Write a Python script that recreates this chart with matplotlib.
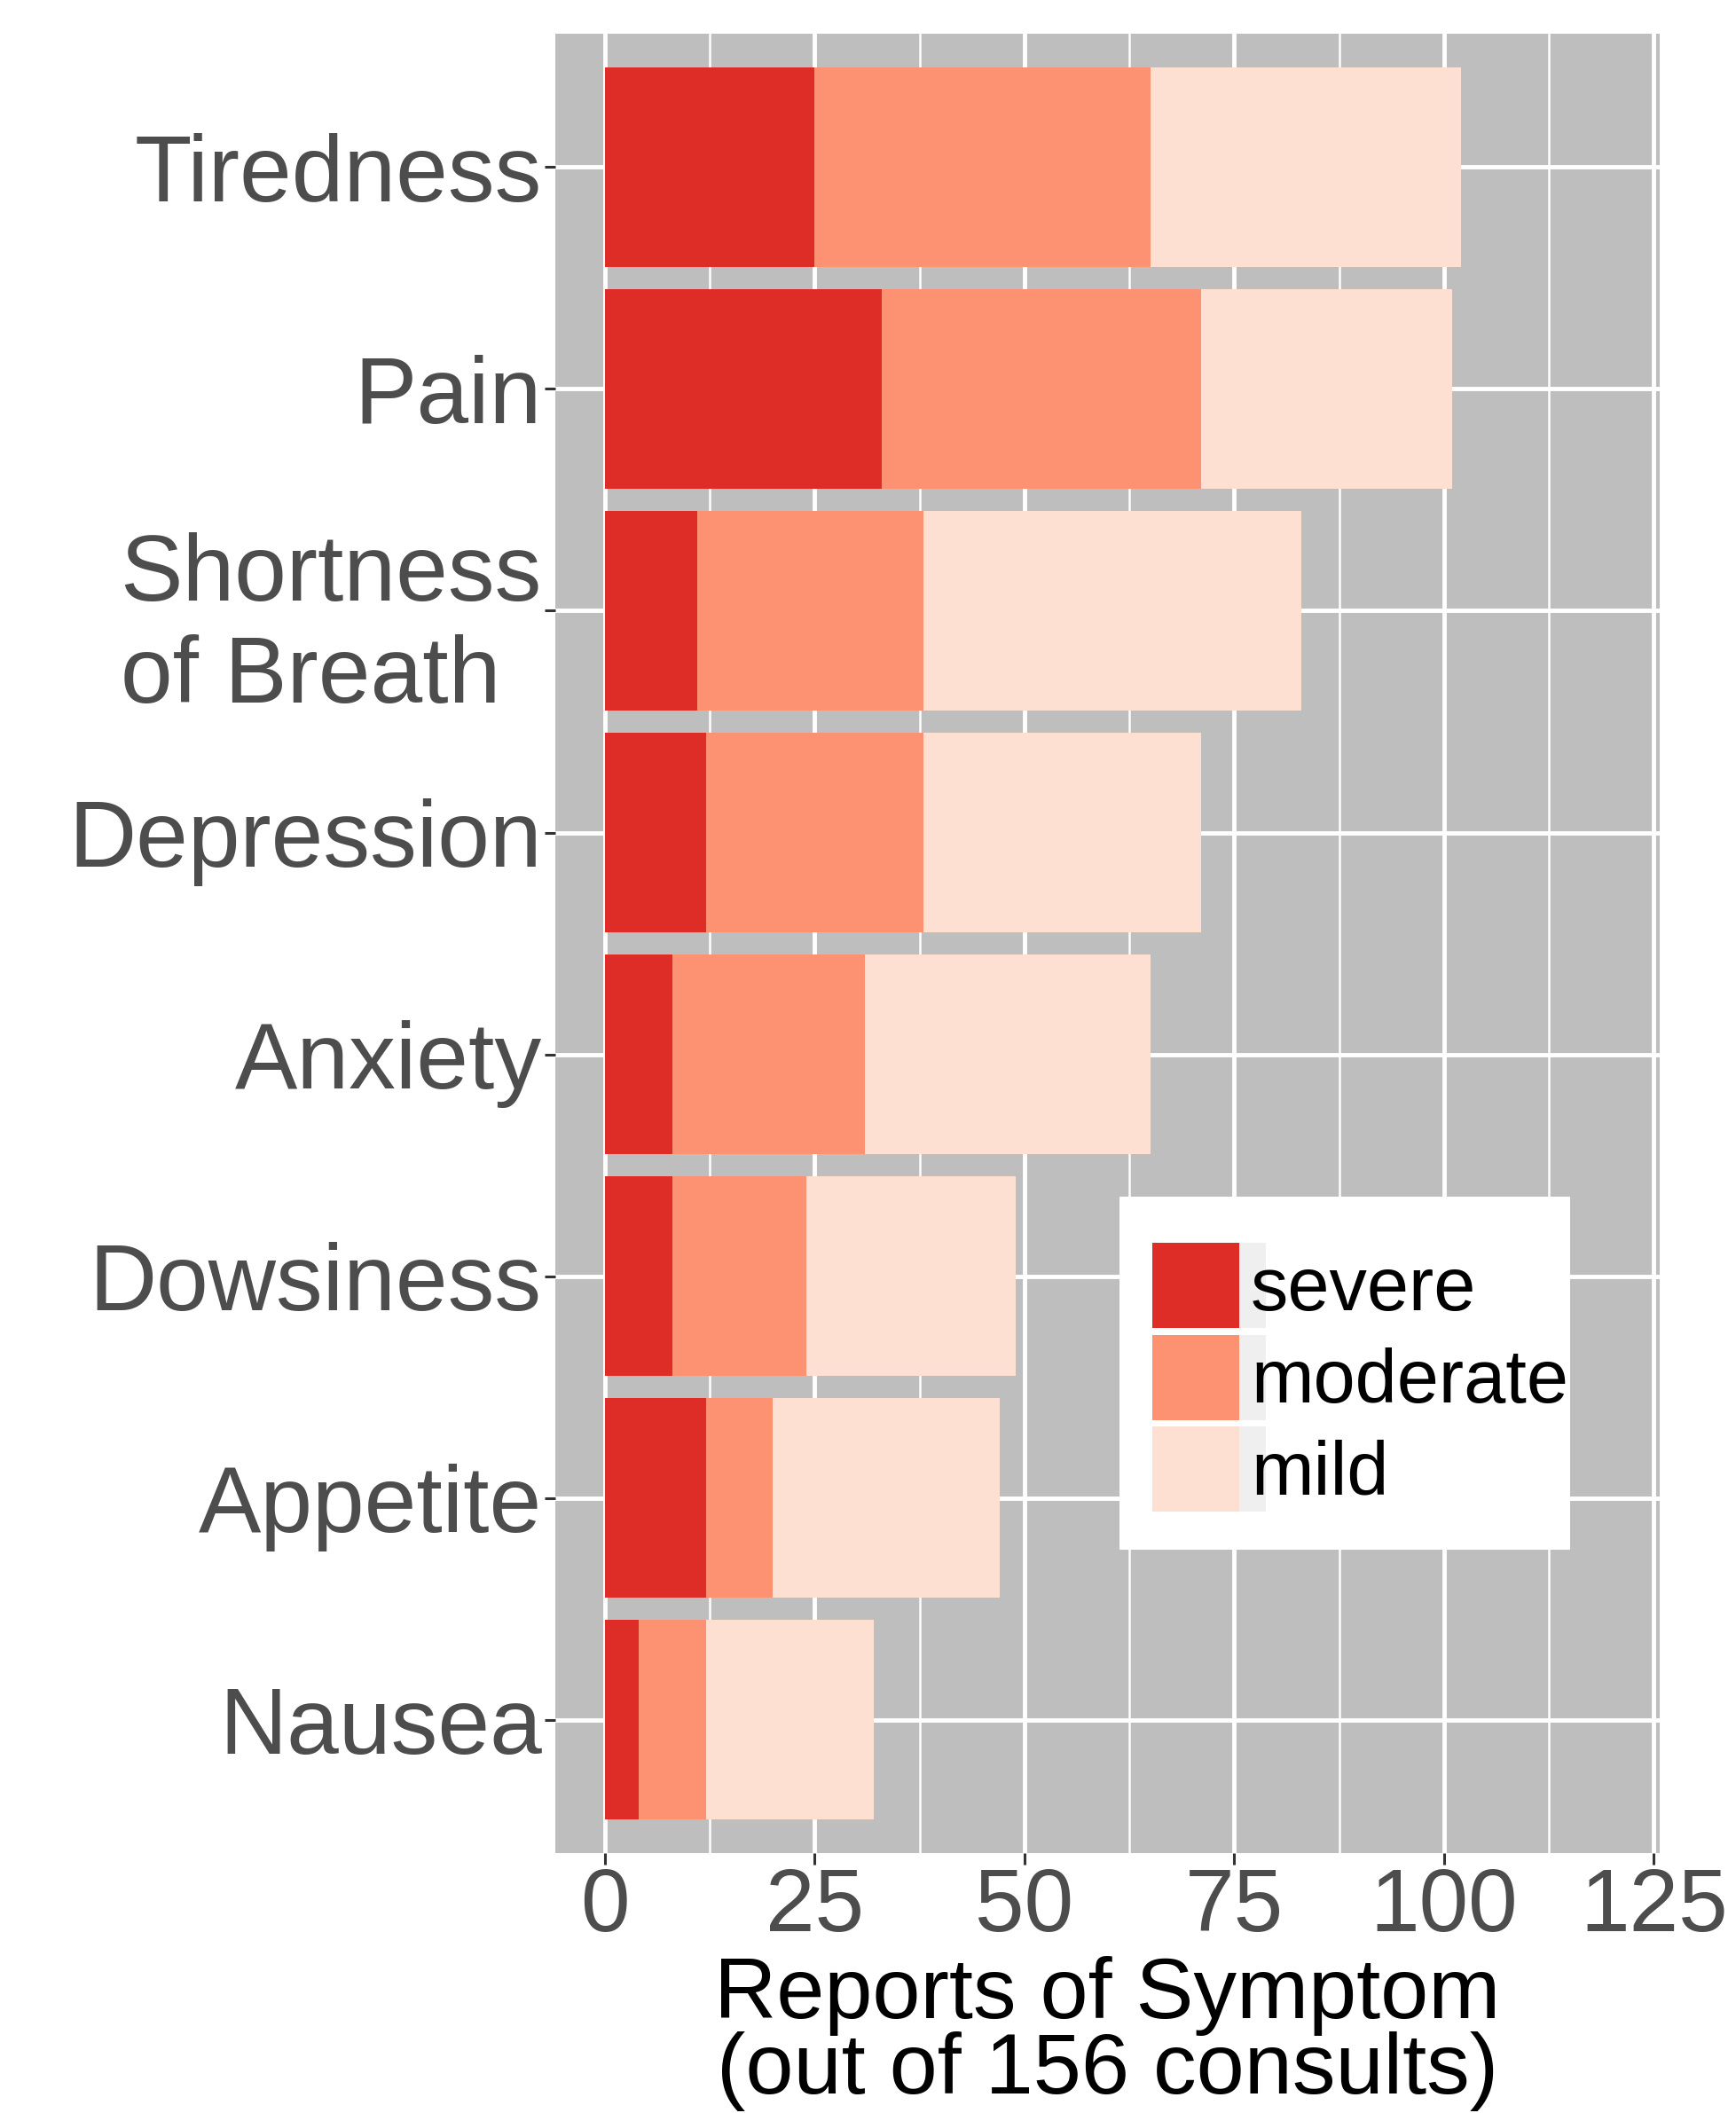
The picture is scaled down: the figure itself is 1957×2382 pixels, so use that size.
import matplotlib
matplotlib.use('Agg')
import matplotlib.pyplot as plt
from matplotlib.patches import Rectangle
from matplotlib.ticker import MultipleLocator
import numpy as np

plt.rcParams['font.family'] = ['Liberation Sans', 'DejaVu Sans']

# --- data ---
symptoms = ["Tiredness", "Pain", "Shortness\nof Breath", "Depression",
            "Anxiety", "Dowsiness", "Appetite", "Nausea"]
severe = [25, 33, 11, 12, 8, 8, 12, 4]
moderate = [40, 38, 27, 26, 23, 16, 8, 8]
mild = [37, 30, 45, 33, 34, 25, 27, 20]
levels = ["severe", "moderate", "mild"]
colors = ["#DE2D26", "#FC9272", "#FEE0D2"]
x_ticks = [0, 25, 50, 75, 100, 125]

W, H = 1957, 2382
fig = plt.figure(figsize=(W / 100, H / 100), dpi=100)
ax = fig.add_axes([0.320, 0.123, 0.636, 0.861])
ax.set_facecolor("#BEBEBE")

ypos = np.arange(len(symptoms))[::-1] + 1
left = np.zeros(len(symptoms))
for vals, col, lab in zip([severe, moderate, mild], colors, levels):
    ax.barh(ypos, vals, left=left, height=0.9, color=col, label=lab,
            linewidth=0, zorder=3)
    left += np.array(vals)

# --- axes / grid ---
ax.set_xlim(-5.9, 125.7)
ax.set_ylim(0.4, len(symptoms) + 0.6)
ax.set_xticks(x_ticks)
ax.xaxis.set_minor_locator(MultipleLocator(12.5))
ax.set_yticks(ypos)
ax.set_yticklabels(symptoms)
for t in ax.get_yticklabels():
    t.set_multialignment('left')

ax.grid(which='major', color='white', linewidth=3.5, zorder=1)
ax.grid(which='minor', axis='x', color='white', linewidth=1.8, zorder=1)
ax.set_axisbelow(True)
for s in ax.spines.values():
    s.set_visible(False)

ax.tick_params(axis='both', which='major', length=9, width=2.2,
               color='#333333', labelcolor='#4D4D4D')
ax.tick_params(axis='y', labelsize=76, pad=2)
ax.tick_params(axis='x', labelsize=72, pad=2)
ax.tick_params(axis='x', which='minor', length=0)

ax.set_xlabel("Reports of Symptom\n(out of 156 consults)", fontsize=70,
              color='black', labelpad=5, linespacing=0.93)


# --- legend, laid out by hand in figure pixels ---
def fx(px):
    return px / W


def fy(px):
    return 1 - px / H


ax.add_patch(Rectangle((fx(1262), fy(1747)), fx(1770) - fx(1262),
                       fy(1349) - fy(1747), transform=fig.transFigure,
                       facecolor='white', edgecolor='none', zorder=4,
                       clip_on=False))
key_top = 1401
key_h = 96
key_pitch = 103.5
for i, (c, l) in enumerate(zip(colors, levels)):
    top = key_top + i * key_pitch
    # faint key background strip, as in the ggplot original
    ax.add_patch(Rectangle((fx(1299), fy(top + key_h)), fx(1427) - fx(1299),
                           fy(top) - fy(top + key_h), transform=fig.transFigure,
                           facecolor='#EFEFEF', edgecolor='none', zorder=5,
                           clip_on=False))
    ax.add_patch(Rectangle((fx(1299), fy(top + key_h)), fx(1397) - fx(1299),
                           fy(top) - fy(top + key_h), transform=fig.transFigure,
                           facecolor=c, edgecolor='none', zorder=6,
                           clip_on=False))
    fig.text(fx(1410), fy(top + key_h / 2 + 28), l, fontsize=61,
             color='black', ha='left', va='baseline', zorder=7)

fig.savefig("out.png", dpi=100, facecolor='white')
plt.close(fig)
